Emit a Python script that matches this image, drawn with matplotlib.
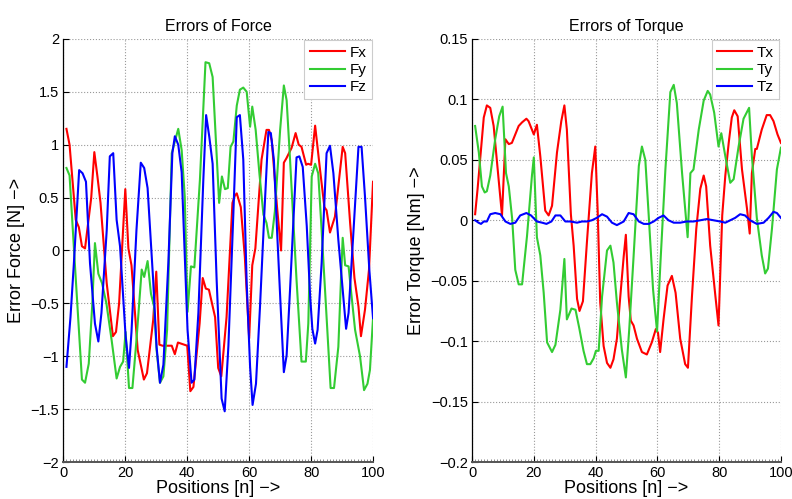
import numpy as np
import matplotlib.pyplot as plt
from matplotlib.ticker import MultipleLocator

plt.rcParams['font.family'] = ['Liberation Sans', 'DejaVu Sans']

# ---- force errors (x positions, values) ----
fx_x = [1, 2, 4, 5, 6, 7, 9, 10, 11, 12, 14, 16, 17, 18, 20, 21, 22, 24, 26, 27, 29, 30, 31, 32, 35, 36, 37, 39, 40,
        41, 42, 44, 45, 46, 47, 49, 50, 51, 52.7, 54.6, 55.4, 56, 57.3, 58.6, 60, 61, 62, 64, 65.6, 66.4, 67.3, 69,
        70.3, 71.2, 72, 73.7, 75, 76, 76.9, 78.4, 79, 80, 81.3, 82.9, 84.3, 85, 86.1, 87.7, 90.2, 91, 92.6, 94, 95.3,
        96.1, 97.4, 98.7, 100]
fx_y = [1.15, 1.0, 0.29, 0.22, 0.04, 0.02, 0.5, 0.93, 0.7, 0.45, -0.31, -0.81, -0.77, -0.5, 0.58, 0.02, -0.14, -0.94,
        -1.22, -1.16, -0.66, -0.2, -0.89, -0.9, -0.9, -0.98, -0.87, -0.89, -0.9, -1.33, -1.29, -0.69, -0.26, -0.36,
        -0.37, -0.63, -1.11, -1.19, -0.63, 0.45, 0.52, 0.54, 0.41, -0.06, -0.83, -0.14, 0.02, 0.86, 1.14, 1.14, 1.04,
        0.41, 0.0, 0.83, 0.87, 0.97, 1.11, 1.0, 0.98, 0.81, 0.82, 0.81, 1.18, 0.76, 0.41, 0.38, 0.17, 0.32, 0.98, 0.92,
        0.26, -0.26, -0.53, -0.81, -0.56, -0.18, 0.65]

fy_x = [1, 2, 3.7, 6, 7, 8.2, 9.3, 10.2, 11.3, 12.5, 13.9, 15.6, 17.2, 18.3, 19.3, 20.1, 21.2, 22.3, 23.6, 25.3, 26.1,
        27.2, 28.3, 29.3, 30.1, 31.2, 32.3, 33.5, 35, 36, 37.1, 38.2, 39.2, 40.1, 41.2, 42.3, 44.1, 45.9, 47.1, 48.2,
        50.3, 51.2, 52.2, 53.1, 54, 54.9, 56, 57, 58.1, 59.2, 60.3, 61, 62.1, 63.3, 64.6, 65.6, 66.4, 67.3, 68.3, 70,
        71.2, 72.1, 73.2, 75.3, 76.9, 78.3, 79.1, 80.2, 81.3, 82.3, 83.4, 85, 86.3, 87.4, 88.8, 89.6, 90.2, 91, 92.1,
        93.1, 94.2, 95.8, 97.1, 98.2, 99, 100]
fy_y = [0.78, 0.71, -0.12, -1.22, -1.25, -1.07, -0.53, 0.07, -0.22, -0.31, -0.5, -0.85, -1.21, -1.1, -1.05, -0.77,
        -1.3, -1.3, -0.85, -0.18, -0.25, -0.1, -0.41, -0.53, -0.94, -1.25, -1.19, -0.75, 0.92, 1.03, 1.15, 0.95, 0.51,
        -0.58, -0.15, -0.16, 0.67, 1.78, 1.77, 1.64, 0.45, 0.7, 0.58, 0.59, 0.98, 1.03, 1.37, 1.52, 1.54, 1.5, 1.17,
        1.36, 1.14, 0.73, 0.34, 0.26, 0.12, 0.12, 0.37, 1.14, 1.56, 1.42, 0.86, -0.28, -1.05, -1.05, -0.69, 0.7, 0.82,
        0.73, 0.19, -0.63, -1.3, -1.3, -0.91, -0.31, 0.12, -0.14, -0.15, -0.44, -0.75, -1.0, -1.32, -1.26, -1.13, -0.64]

fz_x = [1, 2.3, 3.4, 5.1, 6.2, 7.3, 8.6, 10.2, 11.3, 12.3, 14, 15, 16.1, 17.2, 18.3, 20.1, 21.2, 22, 23.6, 25, 26.1,
        27.2, 29, 30.1, 31.2, 32.3, 33.9, 35.2, 36, 37.1, 38.2, 40.1, 41.4, 42.3, 43.6, 45.2, 46.1, 47.1, 48.2, 49.5,
        51.1, 52.1, 53.3, 54.9, 56, 57, 58.1, 59.2, 60.3, 61.1, 62.2, 63.5, 64.9, 66.2, 67, 68, 69.1, 70.2, 71.2, 72.1,
        73.2, 74.5, 75.3, 76.2, 77.3, 78.6, 79.7, 80.4, 81.3, 82.1, 83.4, 85, 86.1, 87.2, 88.8, 90.2, 91.3, 92.1, 93.7,
        95.3, 96.3, 97.4, 98.8, 100]
fz_y = [-1.1, -0.63, -0.12, 0.76, 0.73, 0.65, -0.12, -0.69, -0.86, -0.59, 0.19, 0.89, 0.92, 0.29, 0.04, -0.81, -1.11,
        -0.77, 0.19, 0.83, 0.78, 0.59, -0.28, -0.91, -1.25, -1.08, -0.12, 0.92, 1.08, 1.0, 0.74, -0.75, -1.25, -1.22,
        -0.59, 0.67, 1.28, 1.08, 0.82, -0.28, -1.4, -1.52, -0.9, 0.35, 1.26, 1.28, 0.86, -0.31, -1.1, -1.46, -1.26,
        -0.53, 0.35, 1.12, 1.11, 0.85, 0.13, -0.55, -1.15, -0.99, -0.37, 0.41, 0.88, 0.89, 0.79, 0.23, -0.44, -0.74,
        -0.88, -0.75, -0.12, 0.92, 0.99, 0.73, 0.1, -0.37, -0.74, -0.59, 0.19, 0.98, 0.98, 0.51, -0.18, -0.64]

# ---- torque errors ----
tx_x = [1, 1.8, 3.8, 4.8, 5.9, 7, 8.6, 9.7, 10.8, 11.9, 12.9, 15.1, 16.2, 17.6, 18.3, 20, 21, 22.1, 23.7, 24.8, 25.9,
        27.5, 28.9, 29.9, 30.7, 32, 32.9, 34, 34.8, 35.9, 37.2, 38.8, 39.9, 40.7, 41.5, 42.6, 43.7, 44.8, 45.8, 46.9,
        48, 49.1, 49.8, 50.7, 51.4, 52.3, 53.4, 55, 56.6, 58.2, 59.5, 60.2, 60.9, 62, 63.3, 64.7, 65.9, 67.4, 69, 69.9,
        71.2, 72.6, 73.9, 75, 75.8, 77.1, 78.8, 79.8, 81, 82, 83.1, 84.1, 84.9, 86, 87.4, 89, 89.9, 90.6, 91.7, 92.2,
        93.8, 95.4, 96.5, 97.6, 98.9, 100]
tx_y = [0.005, 0.026, 0.085, 0.095, 0.093, 0.078, 0.034, 0.004, 0.067, 0.063, 0.064, 0.078, 0.081, 0.084, 0.082, 0.071,
        0.079, 0.053, 0.008, 0.004, 0.012, 0.056, 0.082, 0.095, 0.075, 0.005, -0.021, -0.065, -0.075, -0.067, -0.018,
        0.039, 0.061, 0.006, -0.068, -0.104, -0.118, -0.122, -0.115, -0.098, -0.063, -0.03, -0.012, -0.063, -0.083,
        -0.087, -0.098, -0.109, -0.111, -0.101, -0.09, -0.093, -0.109, -0.082, -0.054, -0.046, -0.06, -0.098, -0.119,
        -0.122, -0.063, -0.007, 0.026, 0.037, 0.028, -0.021, -0.063, -0.087, 0.004, 0.037, 0.064, 0.085, 0.091, 0.086,
        0.042, 0.01, -0.011, 0.039, 0.059, 0.059, 0.075, 0.087, 0.087, 0.082, 0.071, 0.064]

ty_x = [1, 2.2, 3.2, 4.1, 4.8, 5.9, 7.5, 8.8, 9.9, 11, 11.9, 13, 14, 15.1, 16.2, 17.8, 19.4, 20, 21, 22.1, 23.2, 24.3,
        25.9, 27, 28.6, 29.9, 30.7, 32.2, 33.5, 34.7, 36.1, 37.2, 38.3, 39.4, 40.1, 41, 42.1, 43.7, 44.8, 45.8, 46.9,
        48.5, 49.8, 50.9, 52.3, 54, 55, 56.1, 57.2, 58.6, 59.9, 61, 62.6, 64.2, 65.3, 66.3, 68, 69.8, 70.7, 71.7, 73.4,
        75, 76.3, 77.1, 78.4, 79.8, 80.7, 82, 83.6, 84.7, 86.3, 87.9, 89.7, 90.6, 92.2, 93.8, 94.9, 95.8, 97.1, 98.7,
        100]
ty_y = [0.078, 0.056, 0.028, 0.023, 0.024, 0.037, 0.067, 0.086, 0.094, 0.039, 0.028, 0.001, -0.041, -0.053, -0.053,
        -0.013, 0.037, 0.052, -0.014, -0.029, -0.06, -0.101, -0.109, -0.103, -0.074, -0.032, -0.082, -0.073, -0.074,
        -0.089, -0.108, -0.119, -0.119, -0.114, -0.108, -0.108, -0.063, -0.025, -0.021, -0.035, -0.068, -0.107, -0.13,
        -0.09, -0.03, 0.045, 0.061, 0.05, 0.004, -0.057, -0.092, -0.035, 0.042, 0.106, 0.112, 0.097, 0.039, -0.014,
        0.039, 0.042, 0.075, 0.099, 0.107, 0.104, 0.089, 0.061, 0.072, 0.053, 0.031, 0.034, 0.061, 0.084, 0.093, 0.053,
        0.002, -0.029, -0.044, -0.04, -0.007, 0.042, 0.06]

tz_x = [1, 2.1, 2.9, 3.8, 4.8, 5.9, 7.5, 9.2, 10.8, 12.4, 14, 15.6, 17.6, 19.1, 21, 22.7, 24.1, 25.7, 27, 28.6, 30.2,
        31.8, 34, 35.6, 37.2, 38.8, 40.4, 42.1, 43.7, 45.3, 46.9, 49.1, 50.7, 52.3, 54, 55.6, 57.2, 58.8, 60.4, 62,
        63.6, 65.3, 67.4, 69.5, 71.7, 73.9, 76, 78.2, 80.3, 82, 83.6, 85.2, 86.8, 88.4, 90, 92.2, 94.4, 96, 97.6, 98.7,
        100]
tz_y = [0.0, -0.002, -0.003, -0.001, -0.001, 0.005, 0.006, 0.005, -0.001, -0.003, -0.002, 0.004, 0.006, 0.004, -0.001,
        -0.002, -0.003, -0.001, 0.004, 0.004, -0.001, -0.001, -0.002, -0.001, -0.001, 0.0, 0.002, 0.005, 0.003, -0.002,
        -0.004, -0.001, 0.006, 0.005, -0.001, -0.003, -0.003, -0.001, 0.002, 0.004, 0.0, -0.002, -0.002, -0.001,
        -0.001, 0.0, 0.001, 0.0, -0.001, -0.002, 0.0, 0.002, 0.005, 0.004, 0.0, -0.003, -0.002, 0.002, 0.007, 0.006,
        0.002]

RED = '#ff0000'
GREEN = '#33cc33'
BLUE = '#0000ff'

fig = plt.figure(figsize=(7.92, 4.99), dpi=100)
ax1 = fig.add_axes([0.080, 0.074, 0.391, 0.848])
ax2 = fig.add_axes([0.596, 0.074, 0.390, 0.848])


def style(ax, title, ylabel):
    ax.set_xlim(0, 100)
    ax.set_axisbelow(True)
    ax.grid(True, linestyle=':', color='#999999', linewidth=0.8)
    ax.spines['top'].set_visible(False)
    ax.spines['right'].set_visible(False)
    ax.spines['left'].set_linewidth(0.9)
    ax.spines['bottom'].set_linewidth(1.4)
    ax.spines['bottom'].set_color('#555555')
    ax.xaxis.set_minor_locator(MultipleLocator(1))
    ax.tick_params(direction='in', labelsize=10.5, length=4, pad=3)
    ax.tick_params(axis='x', which='minor', direction='in', length=2, color='#777777', width=0.6)
    ax.set_title(title, fontsize=11.5, pad=6)
    ax.set_xlabel('Positions [n] \u2212>', fontsize=13, labelpad=0)
    ax.set_ylabel(ylabel, fontsize=13, labelpad=4)
    leg = ax.legend(loc='upper right', fontsize=11, fancybox=False, framealpha=1,
                    edgecolor='#cccccc', handlelength=2.3, handletextpad=0.3,
                    borderaxespad=0.1, borderpad=0.35, labelspacing=0.2)
    leg.get_frame().set_linewidth(0.8)


ax1.plot(fx_x, fx_y, color=RED, lw=1.5, label='Fx')
ax1.plot(fy_x, fy_y, color=GREEN, lw=1.5, label='Fy')
ax1.plot(fz_x, fz_y, color=BLUE, lw=1.5, label='Fz')
ax1.set_ylim(-2, 2)
ax1.set_yticks(np.arange(-2, 2.01, 0.5))
ax1.set_yticklabels(['\u22122', '\u22121.5', '\u22121', '\u22120.5', '0', '0.5', '1', '1.5', '2'])
style(ax1, 'Errors of Force', 'Error Force [N] \u2212>')

ax2.plot(tx_x, tx_y, color=RED, lw=1.5, label='Tx')
ax2.plot(ty_x, ty_y, color=GREEN, lw=1.5, label='Ty')
ax2.plot(tz_x, tz_y, color=BLUE, lw=1.5, label='Tz')
ax2.set_ylim(-0.2, 0.15)
ax2.set_yticks([-0.2, -0.15, -0.1, -0.05, 0, 0.05, 0.1, 0.15])
ax2.set_yticklabels(['\u22120.2', '\u22120.15', '\u22120.1', '\u22120.05', '0', '0.05', '0.1', '0.15'])
style(ax2, 'Errors of Torque', 'Error Torque [Nm] \u2212>')

fig.savefig('out.png', dpi=100)
